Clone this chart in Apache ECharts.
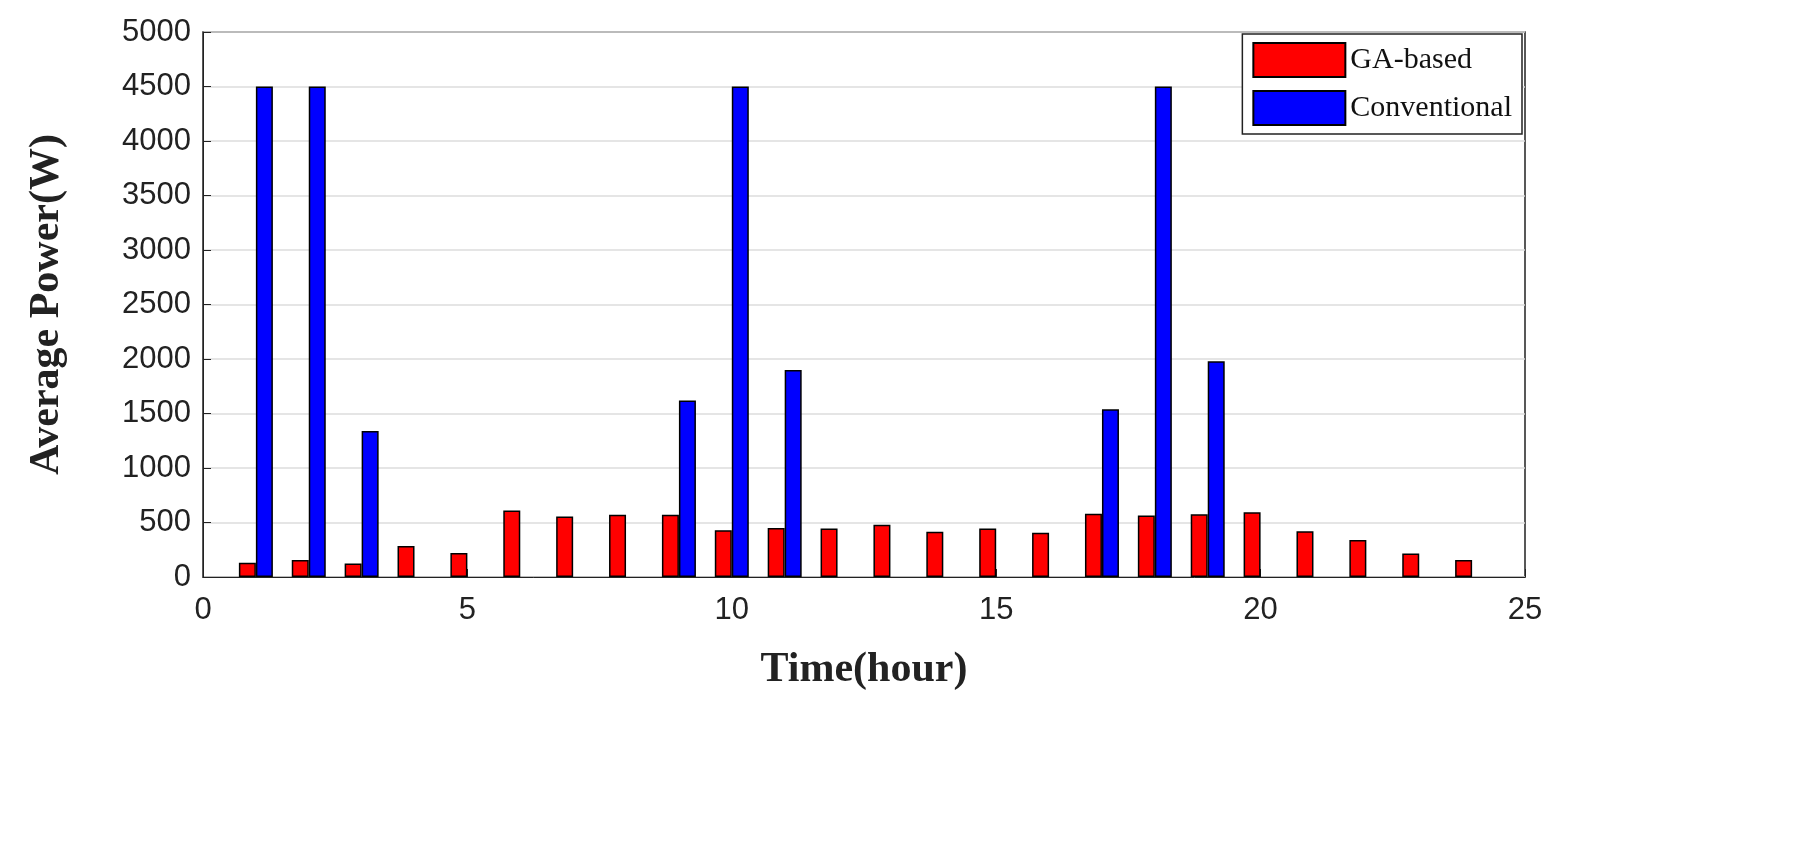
<!DOCTYPE html>
<html>
<head>
<meta charset="utf-8">
<script src="https://cdn.jsdelivr.net/npm/echarts@6/dist/echarts.min.js"></script>
<style>html,body{margin:0;background:#fff}#c{width:1813px;height:842px}</style>
</head>
<body>
<div id="c"></div>
<script>
// ============================
// Datos
// ============================
var hours = [1,2,3,4,5,6,7,8,9,10,11,12,13,14,15,16,17,18,19,20,21,22,23,24];
var gaBased = [130,155,125,285,220,610,555,570,570,430,450,445,480,415,445,405,580,565,575,595,420,340,215,155];
var conventional = [4500,4500,1340,0,0,0,0,0,1620,4500,1900,0,0,0,0,0,1540,4500,1980,0,0,0,0,0];

// los ceros no se dibujan (sin barra)
function pairs(vals) {
    return hours.map((h, i) => [h, vals[i] === 0 ? "-" : vals[i]]);
}

var chart = echarts.init(document.getElementById("c"));
var tickFont = { fontFamily: "Liberation Sans", fontSize: 31, color: "#222" };
var titleFont = { fontFamily: "Liberation Serif", fontSize: 42, fontWeight: "bold", color: "#222" };

chart.setOption({
    animation: false,
    grid: { left: 203, right: 288, top: 32, bottom: 265, show: true, borderColor: "#222", borderWidth: 1.5 },
    legend: {
        orient: "vertical", right: 291, top: 34,
        backgroundColor: "#fff", borderColor: "#222", borderWidth: 1.5,
        padding: [8, 10, 8, 10], itemGap: 12,
        itemWidth: 92, itemHeight: 34, icon: "rect",
        textStyle: { fontFamily: "Liberation Serif", fontSize: 30, color: "#111" },
        data: ["GA-based", "Conventional"]
    },
    xAxis: {
        type: "value", min: 0, max: 25, interval: 5,
        name: "Time(hour)", nameLocation: "middle", nameGap: 72, nameTextStyle: titleFont,
        axisLine: { lineStyle: { color: "#222" } },
        axisTick: { inside: true, length: 8, lineStyle: { color: "#222" } },
        axisLabel: Object.assign({ margin: 18 }, tickFont),
        splitLine: { show: false }
    },
    yAxis: {
        type: "value", min: 0, max: 5000, interval: 500,
        name: "Average Power(W)", nameLocation: "middle", nameGap: 135, nameTextStyle: titleFont,
        axisLine: { show: true, lineStyle: { color: "#222" } },
        axisTick: { show: true, inside: true, length: 8, lineStyle: { color: "#222" } },
        axisLabel: Object.assign({ margin: 12, formatter: v => String(v) }, tickFont),
        splitLine: { lineStyle: { color: "#ddd", width: 1.5 } }
    },
    series: [
        { name: "GA-based", type: "bar", data: pairs(gaBased), barWidth: 17, barGap: "0%",
          itemStyle: { color: "#ff0000", borderColor: "#000", borderWidth: 1.5 } },
        { name: "Conventional", type: "bar", data: pairs(conventional), barWidth: 17, barGap: "0%",
          itemStyle: { color: "#0000ff", borderColor: "#000", borderWidth: 1.5 } }
    ]
});
</script>
</body>
</html>
